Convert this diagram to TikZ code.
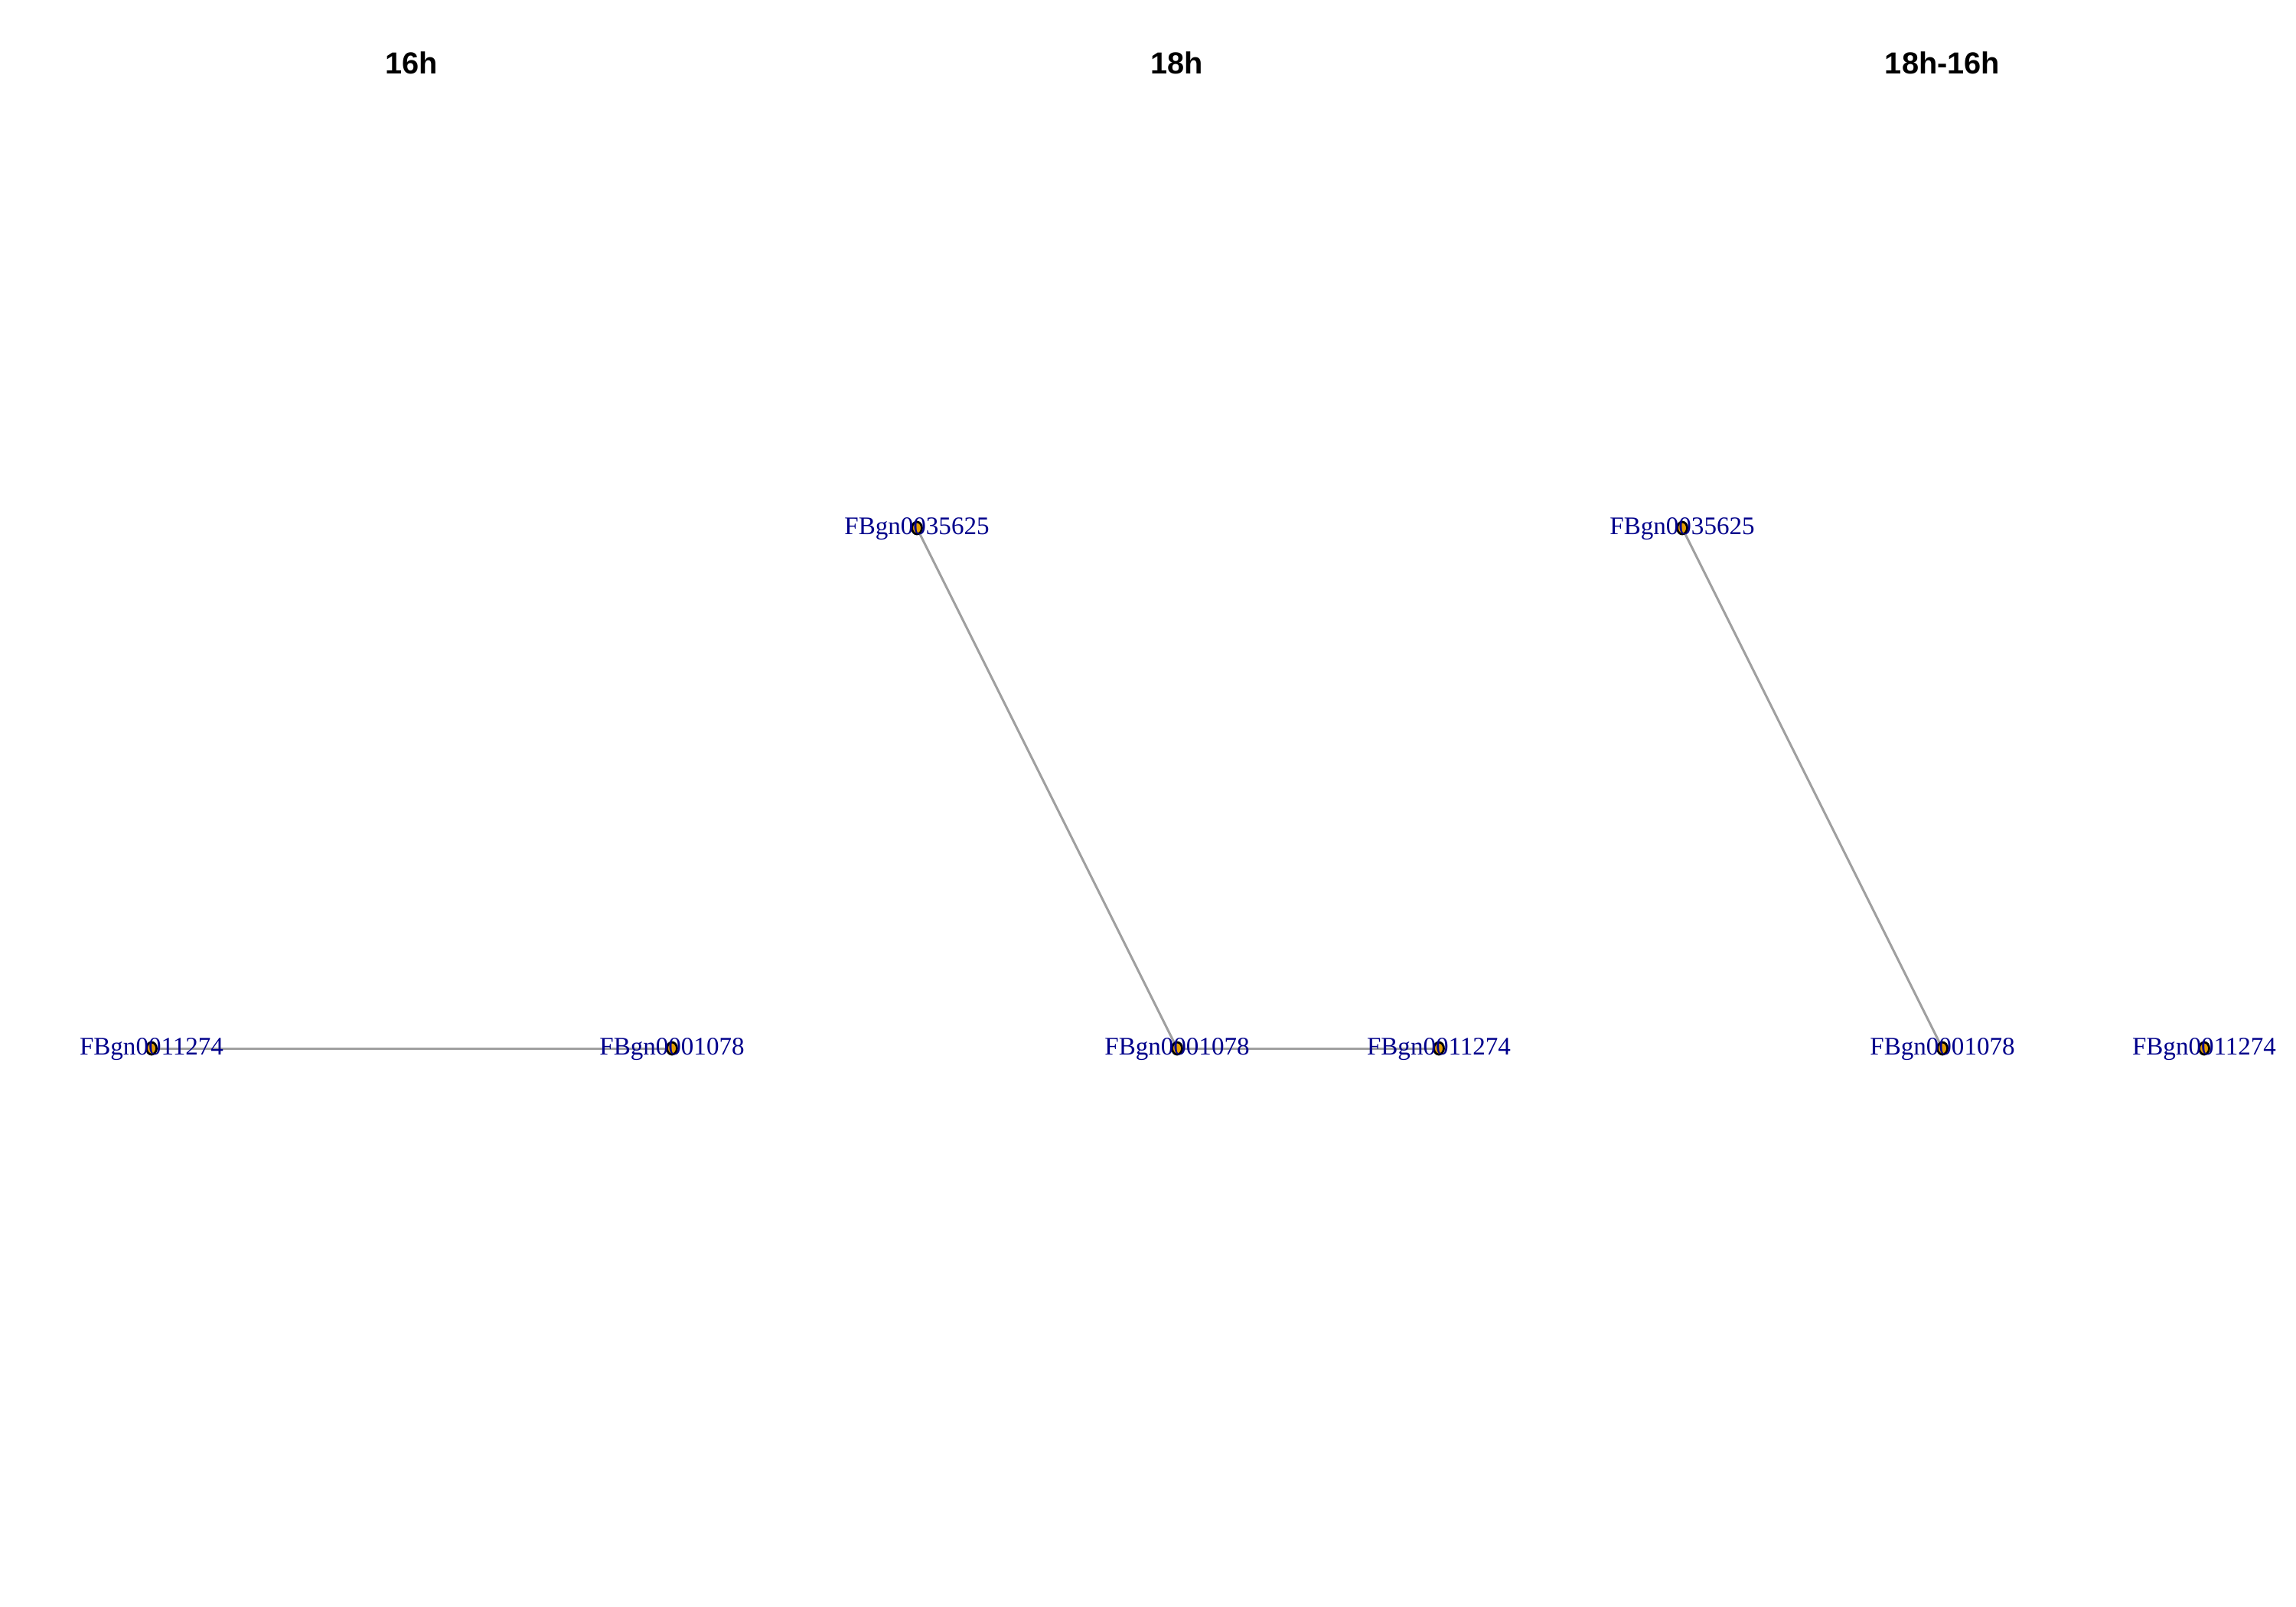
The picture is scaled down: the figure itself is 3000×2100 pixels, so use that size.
\documentclass[tikz,border=0pt]{standalone}
\usepackage{fontspec}
\usetikzlibrary{shapes.geometric}
\setmainfont{Liberation Serif}
\newfontfamily\titlefont{Liberation Sans}
\definecolor{vfill}{HTML}{E69F00}
\definecolor{vlabel}{HTML}{00008B}
\definecolor{edgegray}{HTML}{A0A0A0}
\begin{document}
\begin{tikzpicture}[x=0.01cm,y=-0.01cm,
  vtx/.style={ellipse, draw=black, line width=0.8pt, fill=vfill,
    minimum width=0.13cm, minimum height=0.16cm, inner sep=0pt},
  vlab/.style={anchor=base, inner sep=0pt, text=vlabel,
    font=\fontsize{9.4}{11}\selectfont},
  edge/.style={draw=edgegray, line width=0.85pt},
  paneltitle/.style={anchor=base, inner sep=0pt,
    font=\titlefont\bfseries\fontsize{11.3}{13}\selectfont}]
\useasboundingbox (0,0) rectangle (3000,2100);

% panel titles
\node[paneltitle] (t1) at (538,97) {16h};
\node[paneltitle] (t2) at (1538,97) {18h};
\node[paneltitle] (t3) at (2538,97) {18h-16h};

% vertex positions
\coordinate (a1) at (198,1370);
\coordinate (a2) at (878,1370);
\coordinate (b1) at (1198,690);
\coordinate (b2) at (1538,1370);
\coordinate (b3) at (1880,1370);
\coordinate (c1) at (2198,690);
\coordinate (c2) at (2538,1370);
\coordinate (c3) at (2880,1370);

% edges
\draw[edge] (a1) -- (a2);
\draw[edge] (b1) -- (b2);
\draw[edge] (b2) -- (b3);
\draw[edge] (c1) -- (c2);

% vertices
\foreach \v in {a1,a2,b1,b2,b3,c1,c2,c3}
  \node[vtx] (\v-dot) at (\v) {};

% vertex labels
\node[vlab] (la1) at ([yshift=-8*0.01cm]a1) {FBgn0011274};
\node[vlab] (la2) at ([yshift=-8*0.01cm]a2) {FBgn0001078};
\node[vlab] (lb1) at ([yshift=-8*0.01cm]b1) {FBgn0035625};
\node[vlab] (lb2) at ([yshift=-8*0.01cm]b2) {FBgn0001078};
\node[vlab] (lb3) at ([yshift=-8*0.01cm]b3) {FBgn0011274};
\node[vlab] (lc1) at ([yshift=-8*0.01cm]c1) {FBgn0035625};
\node[vlab] (lc2) at ([yshift=-8*0.01cm]c2) {FBgn0001078};
\node[vlab] (lc3) at ([yshift=-8*0.01cm]c3) {FBgn0011274};
\end{tikzpicture}
\end{document}
